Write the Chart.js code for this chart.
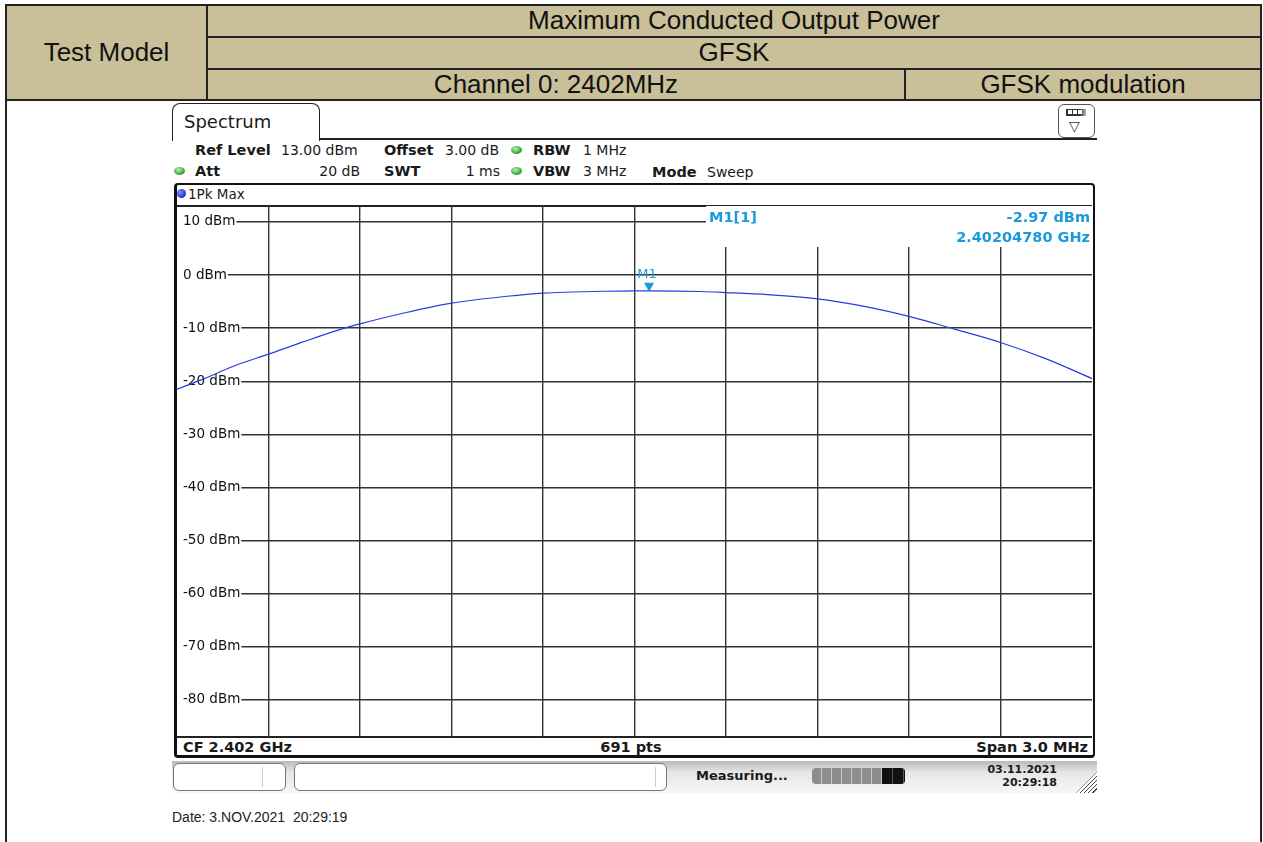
<!DOCTYPE html>
<html>
<head>
<meta charset="utf-8">
<script src="https://cdn.jsdelivr.net/npm/chart.js@4.4.0/dist/chart.umd.min.js"></script>
<style>
  body { margin:0; width:1263px; height:842px; position:relative; background:#fff; overflow:hidden;
         font-family:"Liberation Sans", Arial, sans-serif; color:#111; }
  .a { position:absolute; }
  .hdr { position:absolute; font-size:26px; text-align:center; white-space:nowrap; line-height:30px; }
  .line { position:absolute; background:#222; }
  .rs { font-family:"DejaVu Sans", Verdana, sans-serif; font-size:14px; white-space:nowrap; line-height:18px; color:#1a1a1a; }
  .b { font-weight:bold; font-size:14.5px; }
  .dot { position:absolute; width:11px; height:8px; border-radius:50%;
         background:radial-gradient(ellipse at 40% 35%, #b8f0b0, #3fa83c 60%, #2a7a28); }
</style>
</head>
<body>
<!-- header table -->
<div class="a" style="left:5px;top:4px;width:1257px;height:97px;background:#c9bf99;border:2px solid #222;box-sizing:border-box;"></div>
<div class="line" style="left:206px;top:4px;width:2px;height:97px;"></div>
<div class="line" style="left:206px;top:36px;width:1056px;height:2px;"></div>
<div class="line" style="left:206px;top:68px;width:1056px;height:2px;"></div>
<div class="line" style="left:904px;top:68px;width:2px;height:33px;"></div>
<div class="hdr" style="left:7px;width:199px;top:37px;">Test Model</div>
<div class="hdr" style="left:208px;width:1052px;top:5px;">Maximum Conducted Output Power</div>
<div class="hdr" style="left:208px;width:1052px;top:37px;">GFSK</div>
<div class="hdr" style="left:208px;width:696px;top:69px;">Channel 0: 2402MHz</div>
<div class="hdr" style="left:906px;width:354px;top:69px;">GFSK modulation</div>
<div class="line" style="left:5px;top:100px;width:2px;height:742px;"></div>
<div class="line" style="left:1260px;top:100px;width:2px;height:742px;"></div>

<!-- instrument tab -->
<div class="a" style="left:172px;top:103px;width:148px;height:38px;border:1.5px solid #222;border-bottom:none;border-radius:8px 8px 0 0;box-sizing:border-box;"></div>
<div class="a rs" style="left:184px;top:111px;font-size:18px;line-height:22px;">Spectrum</div>
<div class="line" style="left:320px;top:138px;width:777px;height:2px;"></div>
<div class="a" style="left:1058px;top:104px;width:37px;height:34px;border:1.5px solid #555;border-radius:6px;box-sizing:border-box;"></div>
<div class="a" style="left:1066px;top:109px;width:20px;height:7px;background:linear-gradient(90deg,#333 0 70%,#bbb 100%);"></div>
<div class="a" style="left:1068px;top:110px;width:4px;height:4px;background:#fff;"></div>
<div class="a" style="left:1073px;top:110px;width:4px;height:4px;background:#fff;"></div>
<div class="a" style="left:1078px;top:110px;width:4px;height:4px;background:#fff;"></div>
<div class="a rs" style="left:1069px;top:117px;font-size:14px;color:#333;">&#9661;</div>

<!-- setting rows -->
<div class="a rs b" style="left:195px;top:141px;">Ref Level</div>
<div class="a rs" style="left:281px;top:141px;">13.00 dBm</div>
<div class="a rs b" style="left:384px;top:141px;">Offset</div>
<div class="a rs" style="left:445px;top:141px;">3.00 dB</div>
<div class="dot" style="left:511px;top:146px;"></div>
<div class="a rs b" style="left:533px;top:141px;">RBW</div>
<div class="a rs" style="left:583px;top:141px;">1 MHz</div>

<div class="dot" style="left:174px;top:167px;"></div>
<div class="a rs b" style="left:195px;top:162px;">Att</div>
<div class="a rs" style="left:300px;width:60px;text-align:right;top:162px;">20 dB</div>
<div class="a rs b" style="left:384px;top:162px;">SWT</div>
<div class="a rs" style="left:440px;width:60px;text-align:right;top:162px;">1 ms</div>
<div class="dot" style="left:511px;top:167px;"></div>
<div class="a rs b" style="left:533px;top:162px;">VBW</div>
<div class="a rs" style="left:583px;top:162px;">3 MHz</div>
<div class="a rs b" style="left:652px;top:163px;">Mode</div>
<div class="a rs" style="left:707px;top:163px;">Sweep</div>

<!-- trace window -->
<div class="a" style="left:174px;top:183px;width:921px;height:575px;border:2px solid #111;border-left-width:3px;border-bottom-width:3px;border-radius:4px;box-sizing:border-box;"></div>
<div class="a" style="left:177px;top:189px;width:9px;height:9px;border-radius:50%;background:radial-gradient(circle at 35% 35%,#7d8cff,#1832d0 70%);"></div>
<div class="a rs" style="left:188px;top:185px;font-size:13.5px;">1Pk Max</div>
<div class="line" style="left:177px;top:205px;width:915px;height:1.5px;"></div>
<div class="line" style="left:177px;top:736px;width:915px;height:1.5px;"></div>
<div class="a rs b" style="left:183px;top:738px;">CF 2.402 GHz</div>
<div class="a rs b" style="left:531px;width:200px;text-align:center;top:738px;">691 pts</div>
<div class="a rs b" style="left:888px;width:200px;text-align:right;top:738px;">Span 3.0 MHz</div>

<div class="a" style="left:177px;top:206px;width:915px;height:531px;"><canvas id="spec"></canvas></div>

<!-- status bar -->
<div class="a" style="left:172px;top:761px;width:925px;height:32px;background:linear-gradient(180deg,#b9b9b9 0%,#e6e6e6 35%,#f7f7f7 100%);"></div>
<div class="a" style="left:173px;top:763px;width:113px;height:28px;border:1px solid #777;border-radius:6px;background:#fff;box-sizing:border-box;"></div>
<div class="a" style="left:262px;top:767px;width:1px;height:20px;background:#ccc;"></div>
<div class="a" style="left:294px;top:763px;width:373px;height:28px;border:1px solid #777;border-radius:6px;background:#fff;box-sizing:border-box;"></div>
<div class="a" style="left:655px;top:767px;width:1px;height:20px;background:#ccc;"></div>
<div class="a rs b" style="left:696px;top:767px;font-size:13px;">Measuring...</div>
<div class="a" style="left:812px;top:768px;width:93px;height:16px;border-radius:4px;overflow:hidden;
     background:repeating-linear-gradient(90deg,#8d8d8d 0 9px,#c8c8c8 9px 10px);"></div>
<div class="a" style="left:882px;top:768px;width:23px;height:16px;border-radius:0 4px 4px 0;
     background:repeating-linear-gradient(90deg,#111 0 10px,#555 10px 11px);"></div>
<div class="a rs b" style="left:957px;width:100px;text-align:right;top:763px;font-size:11px;line-height:13px;">03.11.2021</div>
<div class="a rs b" style="left:957px;width:100px;text-align:right;top:776px;font-size:11px;line-height:13px;">20:29:18</div>
<div class="a" style="left:1076px;top:772px;width:21px;height:21px;clip-path:polygon(100% 0,100% 100%,0 100%);
     background:repeating-linear-gradient(135deg,#fff 0 2px,#444 2px 3px);"></div>

<div class="a" style="left:172px;top:809px;font-size:14px;color:#222;white-space:pre;">Date: 3.NOV.2021  20:29:19</div>

<script>
// trace readings (frequency in MHz, level in dBm)
const freqMHz = [2400.5, 2400.585, 2400.697, 2400.8, 2400.913, 2401.044, 2401.1, 2401.241, 2401.4,
                 2401.582, 2401.7, 2401.798, 2401.9, 2402.0, 2402.048, 2402.215, 2402.3, 2402.437,
                 2402.6, 2402.762, 2402.9, 2403.044, 2403.2, 2403.35, 2403.5];
const powerDbm = [-21.5, -19.6, -16.9, -14.9, -12.6, -10.1, -9.2, -7.2, -5.3,
                  -4.0, -3.4, -3.2, -3.05, -3.0, -2.97, -3.1, -3.3, -3.7,
                  -4.5, -6.0, -7.8, -10.1, -12.7, -15.8, -19.5];

// grid / axis
const yGrid = [10, 0, -10, -20, -30, -40, -50, -60, -70, -80];
const xGrid = [2400.8, 2401.1, 2401.4, 2401.7, 2402.0, 2402.3, 2402.6, 2402.9, 2403.2];
const refLevel = 13, bottomLevel = -87;
const startMHz = 2400.5, stopMHz = 2403.5;

// marker M1
const markerFreq = 2402.0478;
const markerLevel = -2.97;
const markerText = ['M1[1]', '-2.97 dBm', '2.40204780 GHz'];

const mkBlue = '#1b9ad9';
const plotLeft = 177; // page x of the canvas

// marker readout box + marker triangle
const markerPlugin = {
  id: 'marker',
  beforeDatasetsDraw(chart) {
    const { ctx, chartArea } = chart;
    ctx.save();
    ctx.fillStyle = '#fff';
    ctx.fillRect(706 - plotLeft, chartArea.top, chartArea.right - (706 - plotLeft), 41);
    ctx.fillStyle = mkBlue;
    ctx.font = 'bold 14.5px "DejaVu Sans"';
    ctx.textBaseline = 'middle';
    ctx.textAlign = 'left';
    ctx.fillText(markerText[0], 709 - plotLeft, 12);
    ctx.textAlign = 'right';
    ctx.fillText(markerText[1], 1090 - plotLeft, 12);
    ctx.fillText(markerText[2], 1090 - plotLeft, 32);
    ctx.restore();
  },
  afterDatasetsDraw(chart) {
    const { ctx, scales } = chart;
    const px = scales.x.getPixelForValue(markerFreq);
    const py = scales.y.getPixelForValue(markerLevel);
    ctx.save();
    ctx.fillStyle = mkBlue;
    ctx.beginPath();
    ctx.moveTo(px - 5, py - 8);
    ctx.lineTo(px + 5, py - 8);
    ctx.lineTo(px, py + 1);
    ctx.closePath();
    ctx.fill();
    ctx.font = '13px "DejaVu Sans"';
    ctx.textAlign = 'center';
    ctx.textBaseline = 'middle';
    ctx.fillText('M1', px - 2, py - 16);
    ctx.restore();
  }
};

const points = freqMHz.map((f, i) => ({ x: f, y: powerDbm[i] }));

function noSpace(s) {
  if (s.isHorizontal()) s.height = 0; else s.width = 0;
  s.paddingTop = s.paddingBottom = s.paddingLeft = s.paddingRight = 0;
}

new Chart(document.getElementById('spec'), {
  type: 'line',
  data: {
    datasets: [{
      data: points,
      borderColor: '#2b3cdc',
      borderWidth: 1.2,
      pointRadius: 0,
      cubicInterpolationMode: 'monotone',
      fill: false
    }]
  },
  options: {
    responsive: true,
    maintainAspectRatio: false,
    animation: false,
    layout: { padding: 0 },
    plugins: { legend: { display: false }, tooltip: { enabled: false } },
    scales: {
      x: {
        type: 'linear',
        min: startMHz,
        max: stopMHz,
        afterBuildTicks: (s) => { s.ticks = xGrid.map(v => ({ value: v })); },
        afterFit: noSpace,
        ticks: { display: false },
        grid: { color: '#333', lineWidth: 1.4, drawTicks: false },
        border: { display: false }
      },
      y: {
        min: bottomLevel,
        max: refLevel,
        afterBuildTicks: (s) => { s.ticks = yGrid.map(v => ({ value: v })); },
        afterFit: noSpace,
        ticks: {
          mirror: true,
          padding: 6,
          color: '#111',
          font: { family: 'DejaVu Sans', size: 13.5 },
          callback: (v) => v + ' dBm',
          showLabelBackdrop: true,
          backdropColor: '#fff',
          backdropPadding: { left: 6, right: 1, top: 1, bottom: 1 }
        },
        grid: { color: '#333', lineWidth: 1.4, drawTicks: false },
        border: { display: false }
      }
    }
  },
  plugins: [markerPlugin]
});
</script>
</body>
</html>
